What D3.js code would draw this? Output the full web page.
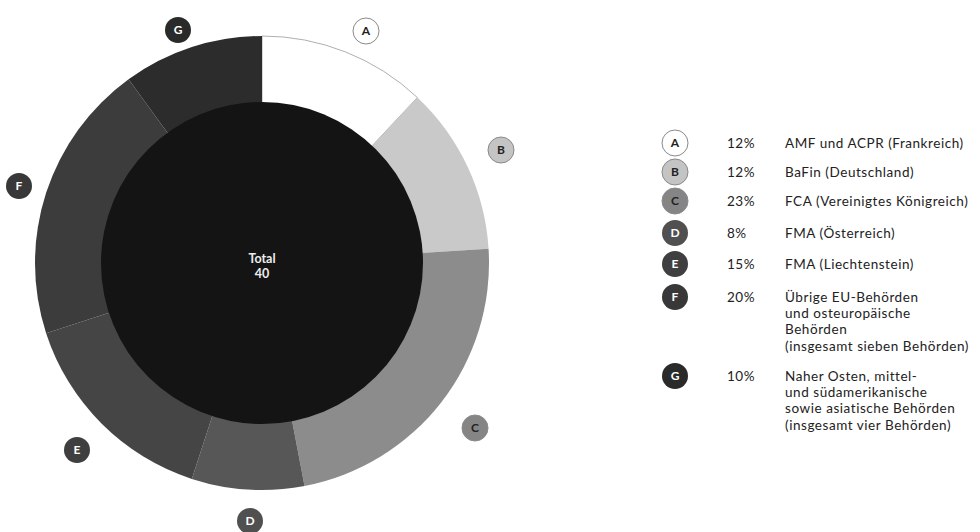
<!DOCTYPE html>
<html>
<head>
<meta charset="utf-8">
<script src="https://cdn.jsdelivr.net/npm/d3@7"></script>
<style>
  body { margin: 0; background: #fff; }
  svg { font-family: Lato, "Open Sans", sans-serif; }
</style>
</head>
<body>
<svg id="chart" width="980" height="532"></svg>
<script>
// regulator shares (percent of 40 cases)
var keys = ["A", "B", "C", "D", "E", "F", "G"]
var shares = [12, 12, 23, 8, 15, 20, 10]
var labels = [
  ["AMF und ACPR (Frankreich)"],
  ["BaFin (Deutschland)"],
  ["FCA (Vereinigtes Königreich)"],
  ["FMA (Österreich)"],
  ["FMA (Liechtenstein)"],
  ["Übrige EU-Behörden", "und osteuropäische", "Behörden", "(insgesamt sieben Behörden)"],
  ["Naher Osten, mittel-", "und südamerikanische", "sowie asiatische Behörden", "(insgesamt vier Behörden)"]
]
var total = 40

var fills = ["#ffffff", "#c9c9c9", "#8c8c8c", "#575757", "#454545", "#3c3c3c", "#2c2c2c"]
var badgeFills = ["#ffffff", "#c4c4c4", "#858585", "#505050", "#3f3f3f", "#383838", "#2a2a2a"]
var badgeText = ["#222", "#222", "#222", "#fff", "#fff", "#fff", "#fff"]

var cx = 262, cy = 263
var outerR = 227, innerR = 161

var svg = d3.select("#chart")

var pie = d3.pie().sort(null).value(function(d){ return d })
var arcs = pie(shares)
var arc = d3.arc().innerRadius(0).outerRadius(outerR)

var g = svg.append("g").attr("transform", "translate(" + cx + "," + cy + ")")

g.selectAll("path.slice")
  .data(arcs)
  .enter()
  .append("path")
  .attr("class", "slice")
  .attr("d", arc)
  .attr("fill", function(d, i){ return fills[i] })
  .attr("stroke", function(d, i){ return i === 0 ? "#9a9a9a" : "none" })
  .attr("stroke-width", 0.8)

// dark centre disc
g.append("circle")
  .attr("r", innerR)
  .attr("fill", "#141414")

g.append("text")
  .attr("text-anchor", "middle")
  .attr("y", 0)
  .style("font-size", "12.5px")
  .style("font-weight", "bold")
  .style("fill", "#eee")
  .text("Total")
g.append("text")
  .attr("text-anchor", "middle")
  .attr("y", 15.2)
  .style("font-size", "12.5px")
  .style("font-weight", "bold")
  .style("fill", "#eee")
  .text(total)

// badges round the ring
var badgeR = 13
var badgePos = [[366, 31], [501, 150], [475, 428], [250, 521], [77, 450], [19, 186], [178, 30]]

function badge(sel, i) {
  sel.append("circle")
    .attr("r", badgeR)
    .attr("fill", badgeFills[i])
    .attr("stroke", i < 3 ? "#8a8a8a" : "none")
    .attr("stroke-width", 1)
  sel.append("text")
    .attr("text-anchor", "middle")
    .attr("dy", "0.36em")
    .style("font-size", "12px")
    .style("font-weight", "bold")
    .style("fill", badgeText[i])
    .text(keys[i])
}

keys.forEach(function(k, i){
  var b = svg.append("g").attr("transform", "translate(" + badgePos[i][0] + "," + badgePos[i][1] + ")")
  badge(b, i)
})

// legend
var legendY = [143, 172, 201, 233, 264, 297, 376]
var leg = svg.append("g")

keys.forEach(function(k, i){
  var row = leg.append("g").attr("transform", "translate(675," + legendY[i] + ")")
  badge(row, i)
  row.append("text")
    .attr("x", 52)
    .attr("dy", "0.36em")
    .style("font-size", "13.5px")
    .style("letter-spacing", "0.5px")
    .style("fill", "#222")
    .text(shares[i] + "%")
  var t = row.append("text")
    .attr("x", 110)
    .style("font-size", "13.5px")
    .style("letter-spacing", "0.55px")
    .style("fill", "#222")
  labels[i].forEach(function(line, j){
    t.append("tspan")
      .attr("x", 110)
      .attr("dy", j === 0 ? "0.36em" : "16.3px")
      .text(line)
  })
})
</script>
</body>
</html>
